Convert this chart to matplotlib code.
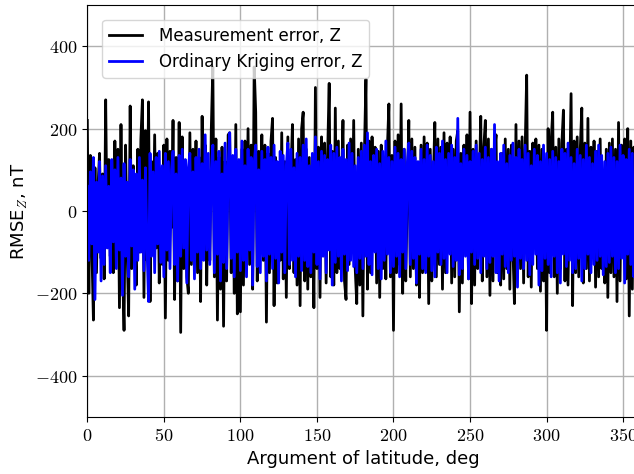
import numpy as np
import matplotlib
matplotlib.use('Agg')
import matplotlib.pyplot as plt
from matplotlib.ticker import FuncFormatter

plt.rcParams['mathtext.fontset'] = 'cm'
plt.rcParams['font.family'] = ['DejaVu Sans']

# argument of latitude, one sample per degree
arg_lat = np.arange(0, 360, 1)

meas_err = [
    220, -200, 135, -95, -265, 105, -150, 60, 140, -115, 90, -165, 270, -75, 125, -110, 45, -150, 170, -60,
    150, -235, 210, -130, -290, 160, -90, -255, 255, -140, 110, -60, -180, 150, -100, 175, 270, -210, 195, -120,
    265, -220, 120, -80, 185, -90, 140, -175, 70, -130, 160, -260, 175, -120, 145, -40, 220, -215, 130, -170,
    215, -295, 180, -140, 90, -160, -200, 190, -130, 150, -70, 170, -150, 130, -220, 230, -100, 160, -180, 60,
    -120, 200, 350, -160, 175, -265, 130, -190, 155, -280, 120, -170, 185, 190, -150, 80, -200, 210, -250, 120,
    -245, 150, -180, 170, -90, 200, -130, 160, -190, 350, 240, -170, 145, -60, 185, -120, 160, -270, 140, -150,
    170, 225, -230, 130, -175, 50, -120, 190, -165, 120, -210, 180, -140, 90, 210, -150, 125, -180, 175, -230,
    200, 240, -170, 150, -190, 130, -160, 70, -235, 300, -140, 155, -210, 180, -90, 165, -175, 140, 310, -160,
    145, -180, 250, -150, 170, -140, 60, 220, -170, -215, 160, -130, 175, -80, 220, -140, -225, 150, -180, 165,
    -255, 140, 320, -190, 170, -150, 180, -50, 155, -175, 145, -210, 160, -140, 75, -165, 150, 260, -160, 135,
    -290, 170, -150, 185, -130, 260, -200, 150, -170, 40, 220, -160, 175, -140, 155, -180, 80, -210, 160, -150,
    180, -145, 165, -225, 150, -170, 70, 215, -160, 175, -130, 155, -190, 190, -150, 165, -60, 180, -175, 150,
    -160, 170, 195, -245, 140, -175, 160, -90, 185, -165, 240, -225, 150, -180, 170, -140, 60, 230, -170, 155,
    220, -160, 175, -205, 150, -170, 145, 185, -150, 80, -180, 140, -165, 175, -140, 150, -190, 160, -90, -225,
    210, -160, 170, -140, 180, -175, 150, 330, -160, 145, -185, 165, -70, 175, -140, 160, -195, 150, -170, 90,
    -290, 200, -150, 170, 240, -160, 155, -200, 175, -140, 165, 245, -170, 150, -180, 60, 285, -230, 170, -150,
    180, -160, 150, 250, -175, 165, -140, 225, -170, 155, -90, 170, -185, 145, -160, 175, -140, 70, -175, 150,
    -210, 165, -150, 175, -160, 150, -220, 215, -170, 160, -80, 175, -165, 200, -255, 170, -190, 155, -160, 140,
]

# ordinary kriging error, Z (nT)
krig_err = [
    60, -120, 95, -80, 130, -215, 70, -100, 120, -170, 85, -130, 110, -90, 60, -150, 125, -75, 100, -140,
    130, -95, 80, -205, 115, -110, 70, -160, 125, -85, 100, -190, 90, -120, 130, -100, 75, -145, 105, -90,
    -220, 140, -110, 95, -150, 130, -80, 145, -125, 110, -160, 140, -95, 120, -140, 100, 145, -130, 90, -170,
    135, -110, 150, -90, 125, -175, 105, 140, -120, 95, -165, 130, -100, 150, -140, 115, -120, 185, -95, 140,
    -130, 100, 160, -150, 120, -105, 145, -170, 90, -125, 165, -140, 110, 190, -115, 135, -160, 150, -100, 125,
    -145, 170, -120, 110, -160, 150, -95, 130, -180, 115, 160, -135, 100, -150, 145, -110, 125, -170, 155, -105,
    130, -140, 160, -115, 120, -175, 145, -100, 135, -150, 110, 165, -130, 150, -120, 105, -160, 140, -110, 130,
    -145, 160, -120, 175, -135, 110, -150, 140, -100, 180, -130, 120, -165, 145, -110, 135, -150, 125, -95, 160,
    -180, 140, -125, 155, -110, 130, -170, 150, -105, 125, -145, 165, -120, 140, -135, 110, -150, 130, -115, 145,
    -140, 160, -110, 190, -130, 120, -155, 135, -100, 150, -140, 115, -165, 145, -120, 170, -105, 130, -150, 120,
    -135, 155, -110, 140, -160, 125, -100, 150, -140, 115, 165, -130, 145, -115, 130, -175, 120, -105, 150, -140,
    125, -150, 160, -110, 135, -145, 120, -160, 155, -100, 140, -130, 170, -115, 125, -150, 140, -105, 160, -135,
    130, -120, 225, -155, 115, -140, 150, -110, 135, -165, 120, -100, 145, -130, 160, -115, 140, -150, 125, -110,
    155, -140, 130, -125, 150, -110, 210, -150, 120, -170, 140, -105, 160, -135, 115, -150, 135, -120, 165, -110,
    130, -185, 150, -115, 125, -140, 160, -120, 140, -155, 110, -130, 150, -105, 135, -180, 120, -145, 160, -115,
    140, -130, 125, -160, 145, -110, 130, -150, 120, -175, 150, -105, 140, -135, 165, -120, 130, -150, 115, -140,
    150, -115, 135, -170, 125, -140, 160, -105, 130, -150, 115, -130, 145, -120, 160, -110, 135, -155, 120, -135,
    140, -125, 155, -110, 130, -150, 120, -140, 160, -115, 135, -175, 125, -105, 150, -130, 140, -160, 120, -130,
]

x_ticks = [0, 50, 100, 150, 200, 250, 300, 350]
y_ticks = [-400, -200, 0, 200, 400]

fig = plt.figure(figsize=(6.34, 4.74), dpi=100)
ax = fig.add_axes([0.1377, 0.1207, 0.8693, 0.8684])

ax.plot(arg_lat, meas_err, color='black', lw=2, label='Measurement error, Z')
ax.plot(arg_lat, krig_err, color='blue', lw=2, label='Ordinary Kriging error, Z')

ax.set_xlim(0, 360)
ax.set_ylim(-500, 500)
ax.set_xticks(x_ticks)
ax.set_yticks(y_ticks)
tick_fmt = FuncFormatter(lambda v, p: r'$%d$' % v)
ax.xaxis.set_major_formatter(tick_fmt)
ax.yaxis.set_major_formatter(tick_fmt)
ax.tick_params(labelsize=13)
ax.grid(True, color='#b0b0b0', lw=1)

ax.set_xlabel('Argument of latitude, deg', fontsize=13)
ax.set_ylabel('RMSE$_Z$, nT', fontsize=13)
ax.legend(loc='upper left', fontsize=12, handlelength=2.0, handletextpad=1.0,
          borderaxespad=0.9)

fig.savefig('out.png', dpi=100)
